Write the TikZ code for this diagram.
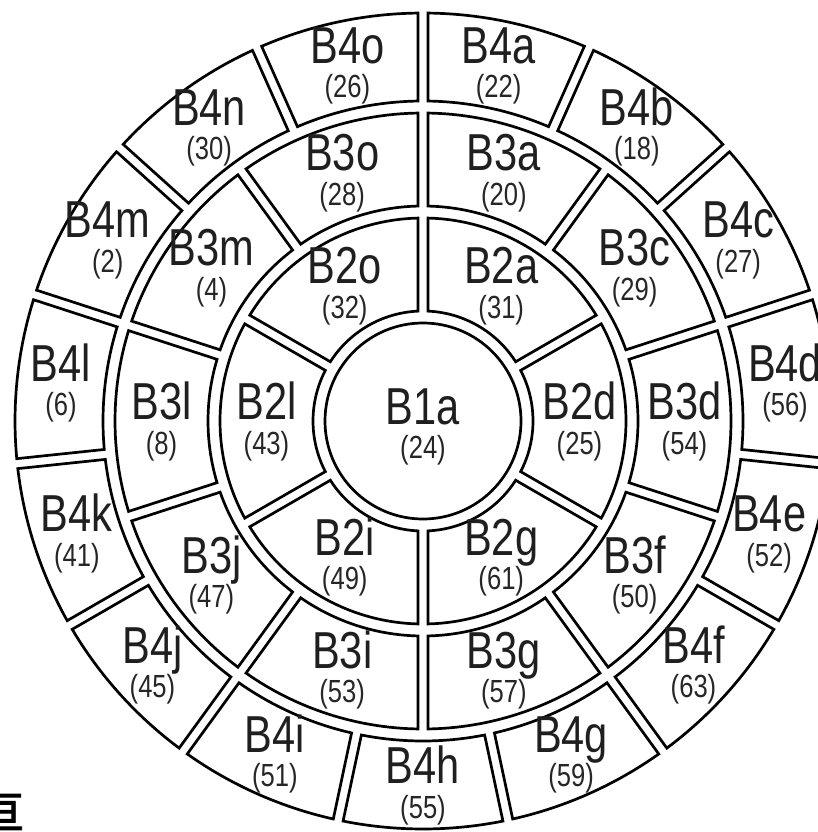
\documentclass[tikz,border=0pt]{standalone}
\usepackage{fontspec}
\usetikzlibrary{calc}
\newfontfamily\labfont{Liberation Sans}[FakeStretch=0.8]
\newfontfamily\cjkfont{Noto Sans CJK SC}[FakeBold=2]
\def\hg{5}
\newcommand\drawcell[6]{%
  \pgfmathsetmacro\cAi{#1+asin(\hg/#3)}%
  \pgfmathsetmacro\cBi{#2-asin(\hg/#3)}%
  \pgfmathsetmacro\cAo{#1+asin(\hg/#4)}%
  \pgfmathsetmacro\cBo{#2-asin(\hg/#4)}%
  \pgfmathsetmacro\cAm{(#1+#2)/2}%
  \pgfmathsetmacro\cRm{(#3+#4)/2}%
  \draw[cellline] ($(C)+(\cAi:#3)$) -- ($(C)+(\cAo:#4)$)
     arc[start angle=\cAo, end angle=\cBo, radius=#4]
     -- ($(C)+(\cBi:#3)$)
     arc[start angle=\cBi, end angle=\cAi, radius=#3] -- cycle;
  \coordinate (#5-c) at ($(C)+(\cAm:\cRm)$);
  \node[namelab] (#5) at ($(#5-c)+(0,1.5)$) {#5};
  \node[numlab] (#5-n) at ($(#5-c)+(0,-33)$) {(#6)};
}
\begin{document}
\begin{tikzpicture}[x=1pt,y=1pt,
  cellline/.style={line width=2.7pt, draw=black, line join=miter},
  namelab/.style={font=\labfont\fontsize{52}{52}\selectfont, text=black!88, anchor=base, inner sep=0pt},
  numlab/.style={font=\labfont\fontsize{32}{32}\selectfont, text=black!85, anchor=base, inner sep=0pt}]
\useasboundingbox (0,0) rectangle (818,-832);
\fill[white] (0,0) rectangle (818,-832);
\coordinate (C) at (423,-421);
% centre
\draw[cellline] (C) circle[radius=98];
\node[namelab] (B1a) at ($(C)+(0,-3)$) {B1a};
\node[numlab] (B1a-n) at ($(C)+(0,-37)$) {(24)};
% ring 2
\foreach \l/\n [count=\k from 0] in {a/31,d/25,g/61,i/49,l/43,o/32}{%
  \pgfmathsetmacro\tA{90-60*(\k+1)}%
  \pgfmathsetmacro\tB{90-60*\k}%
  \drawcell{\tA}{\tB}{110}{203}{B2\l}{\n}}
% ring 3
\foreach \l/\n [count=\k from 0] in {a/20,c/29,d/54,f/50,g/57,i/53,j/47,l/8,m/4,o/28}{%
  \pgfmathsetmacro\tA{90-36*(\k+1)}%
  \pgfmathsetmacro\tB{90-36*\k}%
  \drawcell{\tA}{\tB}{215}{308}{B3\l}{\n}}
% ring 4
\foreach \l/\n [count=\k from 0] in {a/22,b/18,c/27,d/56,e/52,f/63,g/59,h/55,i/51,j/45,k/41,l/6,m/2,n/30,o/26}{%
  \pgfmathsetmacro\tA{90-24*(\k+1)}%
  \pgfmathsetmacro\tB{90-24*\k}%
  \drawcell{\tA}{\tB}{320}{408}{B4\l}{\n}}
% cropped character at lower left
\node[font=\cjkfont\fontsize{44}{44}\selectfont, inner sep=0pt] (frag) at (2,-812) {亘};
\end{tikzpicture}
\end{document}
